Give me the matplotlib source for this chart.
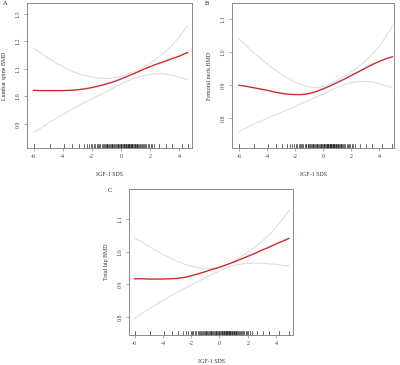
import matplotlib
matplotlib.use("Agg")
import matplotlib.pyplot as plt

plt.rcParams['font.family'] = ['Liberation Serif', 'DejaVu Serif']

# ---------------- data ----------------
x_a = [-6, -5.5, -5, -4.5, -4, -3.5, -3, -2.5, -2, -1.5, -1, -0.5, 0, 0.5, 1, 1.5, 2, 2.5, 3, 3.5, 4, 4.6]
fit_a = [1.022, 1.021, 1.021, 1.021, 1.021, 1.022, 1.024, 1.027, 1.032, 1.038, 1.045, 1.053, 1.063,
         1.074, 1.085, 1.097, 1.108, 1.118, 1.127, 1.137, 1.146, 1.160]
upper_a = [1.175, 1.158, 1.140, 1.123, 1.108, 1.095, 1.085, 1.076, 1.070, 1.066, 1.065, 1.067, 1.073,
           1.081, 1.092, 1.105, 1.120, 1.138, 1.160, 1.185, 1.215, 1.258]
lower_a = [0.868, 0.885, 0.902, 0.918, 0.934, 0.949, 0.964, 0.978, 0.991, 1.004, 1.017, 1.031, 1.045,
           1.057, 1.067, 1.075, 1.080, 1.083, 1.082, 1.077, 1.070, 1.060]

x_b = [-6, -5.5, -5, -4.5, -4, -3.5, -3, -2.5, -2, -1.5, -1, -0.5, 0, 0.5, 1, 1.5, 2, 2.5, 3, 3.5, 4, 4.5, 4.95]
fit_b = [0.900, 0.897, 0.893, 0.889, 0.885, 0.880, 0.876, 0.873, 0.872, 0.872, 0.875, 0.881, 0.889,
         0.898, 0.908, 0.918, 0.929, 0.940, 0.951, 0.962, 0.972, 0.980, 0.986]
upper_b = [1.040, 1.020, 1.000, 0.982, 0.965, 0.949, 0.934, 0.921, 0.910, 0.901, 0.895, 0.893, 0.896,
           0.904, 0.914, 0.926, 0.940, 0.955, 0.972, 0.993, 1.017, 1.047, 1.080]
lower_b = [0.760, 0.771, 0.782, 0.791, 0.800, 0.809, 0.818, 0.827, 0.836, 0.846, 0.855, 0.864, 0.874,
           0.884, 0.894, 0.902, 0.908, 0.911, 0.912, 0.910, 0.905, 0.899, 0.892]

x_c = [-6, -5.5, -5, -4.5, -4, -3.5, -3, -2.5, -2, -1.5, -1, -0.5, 0, 0.5, 1, 1.5, 2, 2.5, 3, 3.5, 4, 4.5, 4.9]
fit_c = [0.917, 0.917, 0.916, 0.916, 0.916, 0.917, 0.918, 0.921, 0.926, 0.932, 0.939, 0.946, 0.952,
         0.960, 0.968, 0.977, 0.986, 0.995, 1.005, 1.014, 1.024, 1.033, 1.041]
upper_c = [1.042, 1.030, 1.017, 1.004, 0.992, 0.981, 0.971, 0.962, 0.956, 0.951, 0.949, 0.949, 0.953,
           0.961, 0.971, 0.984, 0.998, 1.014, 1.032, 1.052, 1.075, 1.102, 1.127]
lower_c = [0.795, 0.810, 0.824, 0.837, 0.850, 0.863, 0.875, 0.887, 0.898, 0.909, 0.920, 0.931, 0.941,
           0.951, 0.958, 0.962, 0.964, 0.965, 0.965, 0.963, 0.961, 0.958, 0.956]

rug_base = [-6.0, -4.9, -3.9, -3.35, -2.9, -2.55, -2.35, -2.2, -2.05, -1.95, -1.85, -1.75, -1.65, -1.55,
            -1.48, -1.4, -1.32, -1.25, -1.18, -1.1, -1.05, -0.98, -0.92, -0.85, -0.8, -0.74, -0.68,
            -0.62, -0.57, -0.5, -0.45, -0.4, -0.34, -0.28, -0.22, -0.17, -0.12, -0.06, 0.0, 0.05,
            0.1, 0.15, 0.2, 0.25, 0.3, 0.34, 0.38, 0.43, 0.48, 0.52, 0.56, 0.6, 0.64, 0.68, 0.72,
            0.76, 0.8, 0.85, 0.9, 0.95, 1.0, 1.05, 1.1, 1.15, 1.2, 1.26, 1.32, 1.38, 1.45, 1.52,
            1.6, 1.68, 1.76, 1.85, 1.95, 2.05, 2.16, 2.3, 2.62, 3.08, 3.5, 4.2]
rug_a = rug_base + [4.6]
rug_b = rug_base + [4.95]
rug_c = rug_base + [4.9]

xticks = [-6, -4, -2, 0, 2, 4]
yticks_a = [0.9, 1.0, 1.1, 1.2, 1.3]
yticks_bc = [0.8, 0.9, 1.0, 1.1]

W, H = 400, 365
fig = plt.figure(figsize=(W / 100, H / 100), dpi=100)

RED = '#d32a2a'
CI = '#dcdde8'
SPINE = '#8a8a8a'
FS = 4.3


def make_ax(left, top, right, bottom):
    return fig.add_axes([left / W, 1 - bottom / H, (right - left) / W, (bottom - top) / H])


def panel(ax, x, fit, up, lo, rug, xlim, ylim, yticks, ylabel, letter, letter_pos):
    ax.plot(x, up, color=CI, lw=0.8)
    ax.plot(x, lo, color=CI, lw=0.8)
    ax.plot(x, fit, color=RED, lw=1.0)
    ax.set_xlim(*xlim)
    ax.set_ylim(*ylim)
    # rug along bottom, inward ticks
    for r in rug:
        ax.plot([r, r], [0, 0.03], transform=ax.get_xaxis_transform(), color='#111111',
                lw=0.45, clip_on=False)
    ax.set_xticks(xticks)
    ax.set_xticklabels([str(t) for t in xticks])
    ax.set_yticks(yticks)
    ax.set_yticklabels(['%.1f' % t for t in yticks], rotation=90, va='center')
    ax.tick_params(axis='both', labelsize=FS, length=2.5, width=0.5, color=SPINE,
                   labelcolor='#444444', pad=2)
    for s in ax.spines.values():
        s.set_color(SPINE)
        s.set_linewidth(0.7)
    ax.set_xlabel('IGF-1 SDS', fontsize=FS, color='#333333', labelpad=9)
    ax.set_ylabel(ylabel, fontsize=FS, color='#333333', labelpad=6)
    fig.text(letter_pos[0] / W, 1 - letter_pos[1] / H, letter, fontsize=FS + 0.4,
             ha='left', va='top', color='#222222')


ax_a = make_ax(27, 3, 192, 148)
panel(ax_a, x_a, fit_a, upper_a, lower_a, rug_a, (-6.45, 4.9), (0.812, 1.34), yticks_a,
      'Lumbar spine BMD', 'A', (3, 1))

ax_b = make_ax(232, 3, 394, 148)
panel(ax_b, x_b, fit_b, upper_b, lower_b, rug_b, (-6.5, 5.07), (0.711, 1.148), yticks_bc,
      'Femoral neck BMD', 'B', (205, 1))

ax_c = make_ax(129, 189, 293, 335)
panel(ax_c, x_c, fit_c, upper_c, lower_c, rug_c, (-6.4, 5.2), (0.744, 1.193), yticks_bc,
      'Total hip BMD', 'C', (108, 188))

fig.savefig('out.png', dpi=100)
